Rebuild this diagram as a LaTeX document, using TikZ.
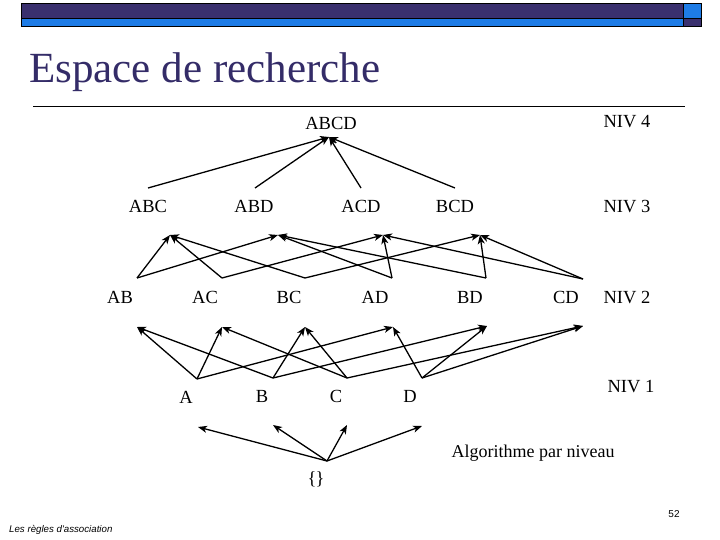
\documentclass[tikz,border=0pt]{standalone}
\usepackage{fontspec}
\setmainfont{Liberation Serif}
\newfontfamily\footfont{Liberation Sans}
\usetikzlibrary{arrows.meta}
\definecolor{darkbar}{RGB}{58,48,110}
\definecolor{lightbar}{RGB}{30,124,230}
\definecolor{titlecol}{RGB}{52,44,104}
\begin{document}
\begin{tikzpicture}[x=1pt,y=-1pt,
  lbl/.style={font=\fontsize{18.5}{20}\selectfont, inner sep=0pt, anchor=base},
  edge/.style={line width=1.3pt, -{Stealth[length=9pt,width=7pt,inset=2.5pt]}}]
\useasboundingbox (0,0) rectangle (720,540);
\fill[white] (0,0) rectangle (720,540);
% header bar
\fill[darkbar] (21,3.3) rectangle (683,18.3);
\fill[lightbar] (21,18.3) rectangle (683,26.7);
\fill[lightbar] (683,3.3) rectangle (701,18.3);
\fill[darkbar] (683,18.3) rectangle (701,26.7);
\draw[line width=0.8pt] (21,3.3) rectangle (701,26.7);
\draw[line width=0.6pt] (21,18.3) -- (701,18.3);
\draw[line width=0.6pt] (683,3.3) -- (683,26.7);
% title
\node[inner sep=0pt, anchor=base west, text=titlecol, font=\fontsize{43}{46}\selectfont] (title) at (29,83) {Espace de recherche};
\draw[line width=0.9pt] (33,106) -- (685,106);
% labels
\node[lbl] (ABCD) at (331,130) {ABCD};
\node[lbl] (ABC) at (148,212) {ABC};
\node[lbl] (ABD) at (254,212) {ABD};
\node[lbl] (ACD) at (361,212) {ACD};
\node[lbl] (BCD) at (455,212) {BCD};
\node[lbl] (AB) at (120,303) {AB};
\node[lbl] (AC) at (205,303) {AC};
\node[lbl] (BC) at (289,303) {BC};
\node[lbl] (AD) at (375,303) {AD};
\node[lbl] (BD) at (470,303) {BD};
\node[lbl] (CD) at (566,303) {CD};
\node[lbl] (A) at (186,403) {A};
\node[lbl] (B) at (262,402) {B};
\node[lbl] (C) at (336,402) {C};
\node[lbl] (D) at (410,402) {D};
\node[lbl] (E) at (316,484) {\{\kern-1pt\}};
\node[lbl] (n4) at (627,128) {NIV 4};
\node[lbl] (n3) at (627,213) {NIV 3};
\node[lbl] (n2) at (627,303) {NIV 2};
\node[lbl] (n1) at (631,392) {NIV 1};
\node[lbl, font=\fontsize{18}{20}\selectfont] (algo) at (533,457) {Algorithme par niveau};
\node[inner sep=0pt, anchor=base, font=\footfont\fontsize{10}{11}\selectfont] (page) at (674,517) {52};
\node[inner sep=0pt, anchor=base west, font=\footfont\itshape\fontsize{9.7}{11}\selectfont] (foot) at (9,532) {Les règles d'association};
% ports
\coordinate (pABCD) at (329,137);
\coordinate (uABC) at (148,188); \coordinate (dABC) at (170,235);
\coordinate (uABD) at (255,188); \coordinate (dABD) at (278,235);
\coordinate (uACD) at (361,188); \coordinate (dACD) at (383,235);
\coordinate (uBCD) at (455,188); \coordinate (dBCD) at (480,235);
\coordinate (uAB) at (137,278); \coordinate (dAB) at (137,327);
\coordinate (uAC) at (222,278); \coordinate (dAC) at (222,327);
\coordinate (uBC) at (305,278); \coordinate (dBC) at (305,327);
\coordinate (uAD) at (392,278); \coordinate (dAD) at (393,327);
\coordinate (uBD) at (486,278); \coordinate (dBD) at (487,326);
\coordinate (uCD) at (583,279); \coordinate (dCD) at (583,326);
\coordinate (uA) at (197,379); \coordinate (dA) at (198,427);
\coordinate (uB) at (273,378); \coordinate (dB) at (273,425);
\coordinate (uC) at (347,378); \coordinate (dC) at (347,425);
\coordinate (uD) at (422,378); \coordinate (dD) at (422,426);
\coordinate (uE) at (327,461);
% level 3 -> 4
\foreach \s in {ABC,ABD,ACD,BCD} \draw[edge] (u\s) -- (pABCD);
% level 2 -> 3
\draw[edge] (uAB) -- (dABC); \draw[edge] (uAB) -- (dABD);
\draw[edge] (uAC) -- (dABC); \draw[edge] (uAC) -- (dACD);
\draw[edge] (uBC) -- (dABC); \draw[edge] (uBC) -- (dBCD);
\draw[edge] (uAD) -- (dABD); \draw[edge] (uAD) -- (dACD);
\draw[edge] (uBD) -- (dABD); \draw[edge] (uBD) -- (dBCD);
\draw[edge] (uCD) -- (dACD); \draw[edge] (uCD) -- (dBCD);
% level 1 -> 2
\draw[edge] (uA) -- (dAB); \draw[edge] (uA) -- (dAC); \draw[edge] (uA) -- (dAD);
\draw[edge] (uB) -- (dAB); \draw[edge] (uB) -- (dBC); \draw[edge] (uB) -- (dBD);
\draw[edge] (uC) -- (dAC); \draw[edge] (uC) -- (dBC); \draw[edge] (uC) -- (dCD);
\draw[edge] (uD) -- (dAD); \draw[edge] (uD) -- (dBD); \draw[edge] (uD) -- (dCD);
% level 0 -> 1
\foreach \s in {A,B,C,D} \draw[edge] (uE) -- (d\s);
\end{tikzpicture}
\end{document}
